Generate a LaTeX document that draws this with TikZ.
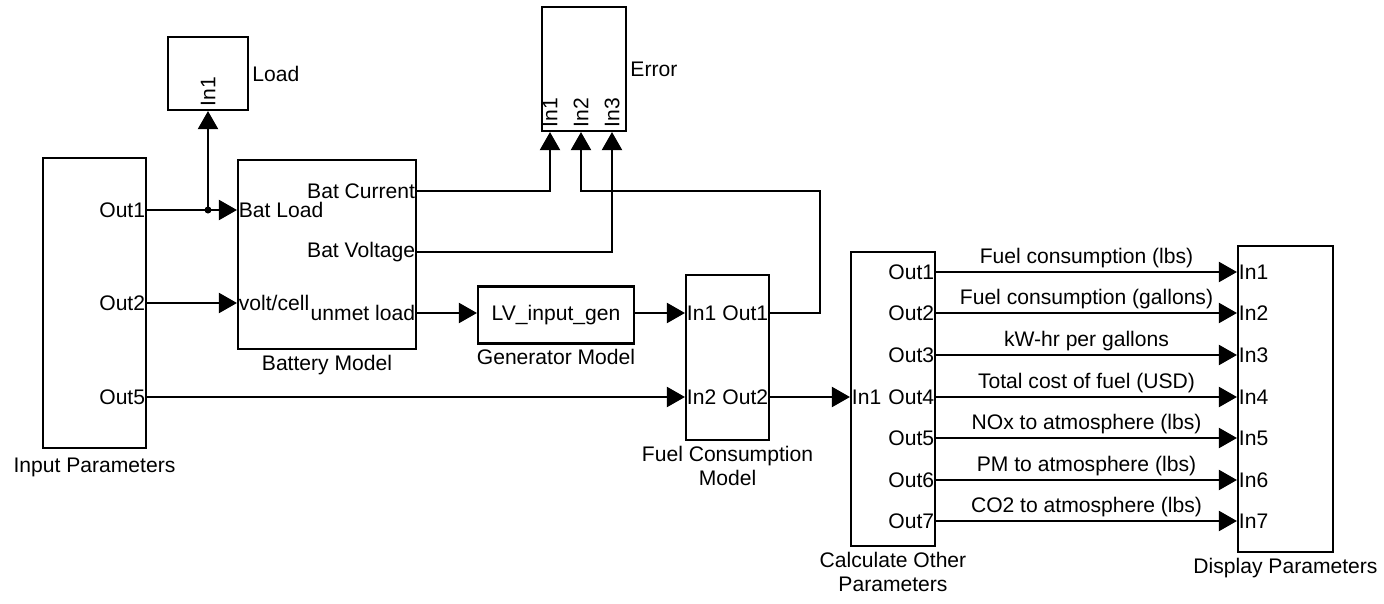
\documentclass[tikz,border=0pt]{standalone}
\usepackage{fontspec}
\setmainfont{Liberation Sans}
\usepackage{tikz}
\usetikzlibrary{positioning,arrows.meta}

\begin{document}
\begin{tikzpicture}[
    x=0.025cm, y=-0.025cm,
    every node/.style={font=\fontsize{15}{17}\selectfont, inner sep=1.2pt},
    blk/.style 2 args={draw, line width=1.5pt, minimum width=#1*0.025cm, minimum height=#2*0.025cm, inner sep=0pt},
    sig/.style={draw, line width=1.4pt, -{Triangle[length=0.45cm, width=0.5cm]}},
    inlab/.style={anchor=west},
    outlab/.style={anchor=east},
    vlab/.style={rotate=90, anchor=west, inner sep=3pt}
]
\useasboundingbox (0,0) rectangle (1384,604);

\node[blk={103}{290}] (inp) at (94.5,303) {};
\node[below=5pt of inp] (inpcap) {Input Parameters};
\node[outlab] (ip1) at (inp.east |- 0,210) {Out1};
\node[outlab] (ip2) at (inp.east |- 0,303) {Out2};
\node[outlab] (ip5) at (inp.east |- 0,397) {Out5};

\node[blk={80}{73}] (load) at (208,73.5) {};
\node[right=1pt of load] (loadcap) {Load};
\node[vlab] (loadin) at (load.south) {In1};

\node[blk={178}{189}] (bat) at (327,254.5) {};
\node[below=2pt of bat] (batcap) {Battery Model};
\node[inlab] (bload) at (bat.west |- 0,210) {Bat Load};
\node[inlab] (bvc) at (bat.west |- 0,303) {volt/cell};
\node[outlab] (bcur) at (bat.east |- 0,191) {Bat Current};
\node[outlab] (bvol) at (bat.east |- 0,252) {Bat Voltage};
\node[outlab] (bunm) at (bat.east |- 0,313) {unmet load};

\node[blk={84}{124}] (err) at (584,69) {};
\node[right=1pt of err] (errcap) {Error};
\foreach \n/\xx in {1/550,2/581,3/612}
    \node[vlab] (ein\n) at (err.south -| \xx,0) {In\n};

\node[blk={156}{57}] (gen) at (556,315) {LV\_input\_gen};
\node[below=2pt of gen] (gencap) {Generator Model};

\node[blk={83}{165}] (fuel) at (727.5,357.5) {};
\node[below=2pt of fuel, align=center] (fuelcap) {Fuel Consumption\\Model};
\node[inlab] (fi1) at (fuel.west |- 0,313) {In1};
\node[inlab] (fi2) at (fuel.west |- 0,397) {In2};
\node[outlab] (fo1) at (fuel.east |- 0,313) {Out1};
\node[outlab] (fo2) at (fuel.east |- 0,397) {Out2};

\node[blk={84}{294}] (calc) at (893,399) {};
\node[below=2pt of calc, align=center] (calccap) {Calculate Other\\Parameters};
\node[inlab] (ci1) at (calc.west |- 0,397) {In1};

\node[blk={95}{306}] (disp) at (1285.5,399) {};
\node[below=2pt of disp] (dispcap) {Display Parameters};

\foreach \i/\yy/\txt in {1/272/Fuel consumption (lbs), 2/313/Fuel consumption (gallons),
    3/355/kW-hr per gallons, 4/397/Total cost of fuel (USD), 5/438/NOx to atmosphere (lbs),
    6/480/PM to atmosphere (lbs), 7/521/CO2 to atmosphere (lbs)} {
    \node[outlab] (co\i) at (calc.east |- 0,\yy) {Out\i};
    \node[inlab] (di\i) at (disp.west |- 0,\yy) {In\i};
    \draw[sig] (co\i.east) -- node[above=1pt] (sl\i) {\txt} (di\i.west);
}

\draw[sig] (ip1.east) -- (bload.west);
\coordinate (br) at (load.south |- ip1.east);
\draw[sig] (br) -- (loadin.west);
\fill (br) circle (2.5pt);
\draw[sig] (ip2.east) -- (bvc.west);
\draw[sig] (ip5.east) -- (fi2.west);
\draw[sig] (bcur.east) -| (ein1.west);
\draw[sig] (bvol.east) -| (ein3.west);
\draw[sig] (fo1.east) -- ++(50,0) |- (ein2.west |- bcur.east) -- (ein2.west);
\draw[sig] (bunm.east) -- (gen.west |- bunm.east);
\draw[sig] (gen.east |- fi1.west) -- (fi1.west);
\draw[sig] (fo2.east) -- (ci1.west);
\end{tikzpicture}
\end{document}
